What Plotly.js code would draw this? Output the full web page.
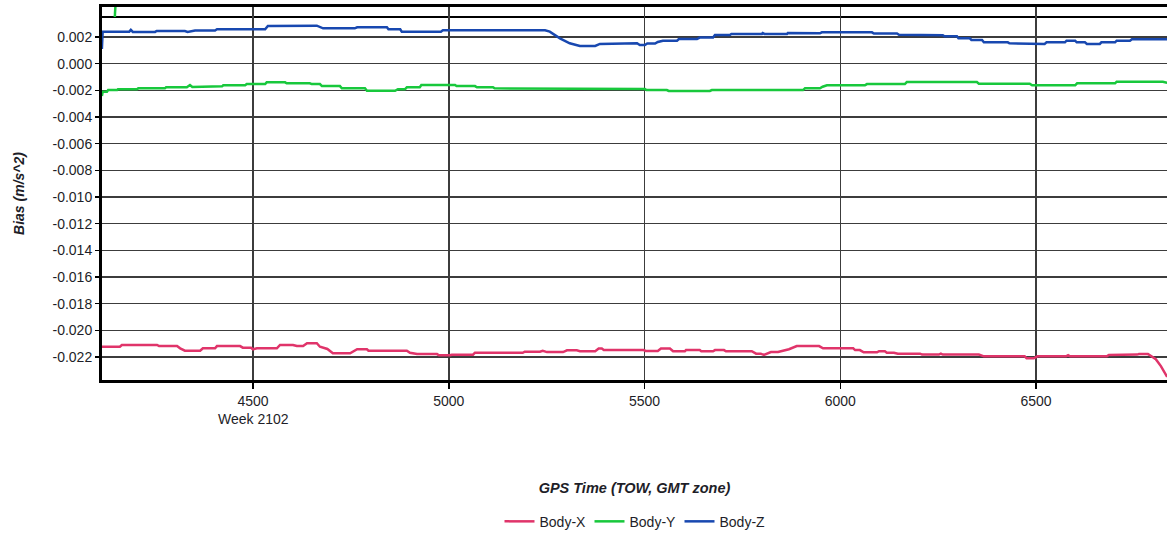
<!DOCTYPE html>
<html>
<head>
<meta charset="utf-8">
<script src="https://cdn.plot.ly/plotly-3.0.1.min.js"></script>
<style>
  html, body { margin: 0; padding: 0; background: #ffffff; }
  #chart { width: 1167px; height: 533px; }
</style>
</head>
<body>
<div id="chart"></div>
<script>
// ---- Data (GPS time of week, seconds; bias in m/s^2) ----
const bodyXTime = [4114,4160,4165,4255,4260,4306,4314,4326,4365,4372,4403,4408,4467,4474,4495,4500,4510,4561,4569,4602,4612,4628,4638,4663,4671,4690,4704,4748,4766,4791,4795,4893,4901,4919,4970,4975,5003,5008,5062,5067,5189,5194,5233,5240,5251,5292,5302,5327,5335,5374,5383,5391,5396,5498,5503,5534,5542,5565,5573,5603,5606,5641,5645,5675,5680,5703,5708,5774,5785,5797,5805,5823,5841,5869,5889,5946,5956,6033,6038,6050,6060,6094,6099,6114,6119,6137,6147,6204,6209,6252,6257,6262,6354,6367,6471,6476,6494,6504,6577,6582,6587,6681,6686,6720,6730,6758,6763,6786,6791,6806,6819,6829,6835];
const bodyXBias = [-0.02123,-0.02123,-0.0211,-0.0211,-0.02118,-0.02118,-0.02135,-0.02153,-0.02153,-0.02135,-0.02135,-0.02118,-0.02118,-0.0213,-0.0213,-0.02142,-0.02135,-0.02135,-0.0211,-0.0211,-0.02118,-0.02118,-0.02097,-0.02097,-0.02123,-0.0214,-0.02172,-0.02172,-0.02142,-0.02142,-0.02153,-0.02153,-0.02168,-0.02178,-0.02178,-0.02187,-0.02187,-0.02183,-0.02183,-0.02168,-0.02168,-0.0216,-0.0216,-0.02153,-0.02163,-0.02163,-0.0215,-0.0215,-0.02157,-0.02157,-0.02137,-0.02137,-0.02148,-0.02148,-0.02155,-0.02155,-0.02137,-0.02137,-0.02157,-0.02157,-0.02148,-0.02148,-0.02157,-0.02157,-0.02148,-0.02148,-0.02157,-0.02157,-0.02175,-0.02175,-0.02185,-0.02163,-0.02163,-0.02142,-0.02118,-0.02118,-0.02135,-0.02135,-0.02148,-0.02148,-0.02165,-0.02165,-0.02157,-0.02157,-0.02168,-0.02168,-0.02175,-0.02175,-0.02182,-0.02182,-0.02175,-0.02182,-0.02182,-0.02195,-0.02195,-0.0221,-0.0221,-0.02195,-0.02195,-0.02187,-0.02195,-0.02195,-0.02185,-0.02185,-0.02182,-0.02182,-0.02178,-0.02178,-0.02187,-0.02217,-0.02268,-0.02317,-0.0235];

const bodyYTime = [4147,4149,null,4114,4116,4127,4130,4153,4155,4204,4207,4275,4278,4331,4339,4345,4377,4380,4421,4424,4480,4484,4531,4535,4582,4586,4645,4650,4671,4676,4722,4727,4786,4791,4863,4870,4888,4893,4926,4930,5016,5020,5067,5072,5113,5117,5292,5296,5501,5505,5557,5562,5667,5672,5905,5910,5948,5955,5966,6063,6068,6165,6170,6349,6354,6484,6490,6600,6605,6702,6706,6824,6835];
const bodyYBias = [0.0035,0.0045,null,-0.00243,-0.0021,-0.0021,-0.00198,-0.00198,-0.00192,-0.00192,-0.00185,-0.00185,-0.00177,-0.00177,-0.0016,-0.00175,-0.00175,-0.0017,-0.0017,-0.00162,-0.00162,-0.00153,-0.00153,-0.0014,-0.0014,-0.00147,-0.00147,-0.00153,-0.00153,-0.00168,-0.00168,-0.00185,-0.00185,-0.00203,-0.00203,-0.00192,-0.00192,-0.00177,-0.00177,-0.0016,-0.0016,-0.00168,-0.00168,-0.00177,-0.00177,-0.00185,-0.00185,-0.0019,-0.0019,-0.00198,-0.00198,-0.00205,-0.00205,-0.00198,-0.00198,-0.00185,-0.00185,-0.00173,-0.00162,-0.00162,-0.00153,-0.00153,-0.00138,-0.00138,-0.0015,-0.0015,-0.00162,-0.00162,-0.00147,-0.00147,-0.00135,-0.00135,-0.00143];

const bodyZTime = [4114,4116,4184,4188,4193,4250,4254,4326,4333,4345,4352,4403,4408,4531,4538,4663,4679,4760,4766,4842,4846,4876,4880,4980,4985,5246,5258,5284,5309,5335,5374,5386,5437,5450,5481,5488,5501,5507,5527,5534,5547,5583,5588,5634,5641,5675,5680,5718,5722,5800,5802,5806,5864,5866,5880,5897,5948,5953,6081,6086,6145,6150,6224,6228,6262,6266,6298,6302,6331,6335,6362,6367,6428,6432,6461,6465,6522,6527,6574,6578,6600,6604,6625,6630,6663,6667,6702,6706,6740,6745,6835];
const bodyZBias = [0.0011,0.0024,0.0024,0.00253,0.00238,0.00238,0.00245,0.00245,0.00238,0.00245,0.00249,0.00249,0.00258,0.00258,0.00283,0.00285,0.00265,0.00265,0.00273,0.00273,0.00258,0.00258,0.0024,0.0024,0.0025,0.0025,0.0024,0.0019,0.00153,0.00133,0.00133,0.00148,0.00148,0.00153,0.00153,0.0014,0.0014,0.00151,0.00151,0.00163,0.00172,0.00172,0.00185,0.00185,0.00196,0.00196,0.00215,0.00215,0.00223,0.00223,0.0023,0.00223,0.00223,0.0023,0.0023,0.00228,0.00228,0.00235,0.00235,0.00226,0.00226,0.00217,0.00217,0.00213,0.00213,0.00205,0.00205,0.0019,0.0019,0.00178,0.00178,0.0016,0.0016,0.00153,0.00153,0.00148,0.00148,0.0016,0.0016,0.00172,0.00172,0.0016,0.0016,0.00148,0.00148,0.0016,0.0016,0.00172,0.00172,0.00183,0.00183];

const seriesNames = ["Body-X", "Body-Y", "Body-Z"];
const xTickVals = [4500, 5000, 5500, 6000, 6500];
const xTickLabels = ["4500", "5000", "5500", "6000", "6500"];
const yTickVals = [0.002, 0.000, -0.002, -0.004, -0.006, -0.008, -0.010, -0.012, -0.014, -0.016, -0.018, -0.020, -0.022];
const yTickLabels = ["0.002", "0.000", "-0.002", "-0.004", "-0.006", "-0.008", "-0.010", "-0.012", "-0.014", "-0.016", "-0.018", "-0.020", "-0.022"];
const weekLabel = "Week 2102";
const weekTick = 4500;

// ---- Styling ----
const FONT = "Liberation Sans, Arial, Helvetica, sans-serif";
const TXT = "#1e1e28";
const colors = ["#e0346a", "#18c83c", "#1848b0"];

const traces = [
  {x: bodyXTime, y: bodyXBias, name: seriesNames[0]},
  {x: bodyYTime, y: bodyYBias, name: seriesNames[1]},
  {x: bodyZTime, y: bodyZBias, name: seriesNames[2]}
].map((t, i) => Object.assign(t, {
  type: "scatter", mode: "lines",
  line: {color: colors[i], width: 2.5},
  connectgaps: false,
  hoverinfo: "skip"
}));

const layout = {
  width: 1167, height: 533,
  margin: {l: 102, r: 0, t: 7, b: 153, autoexpand: false},
  paper_bgcolor: "#ffffff",
  plot_bgcolor: "#ffffff",
  font: {family: FONT, size: 14, color: TXT},
  showlegend: true,
  legend: {
    orientation: "h", x: 0.5, xanchor: "center", y: -0.38, yanchor: "middle",
    entrywidth: 45, entrywidthmode: "pixels",
    font: {family: FONT, size: 14, color: TXT},
    bgcolor: "rgba(0,0,0,0)"
  },
  xaxis: {
    range: [4114.3, 6834.6],
    tickmode: "array", tickvals: xTickVals, ticktext: xTickLabels,
    showgrid: true, gridcolor: "#3c3c3c", gridwidth: 1.5,
    zeroline: false,
    showline: true, linecolor: "#000000", linewidth: 3, mirror: true,
    ticks: "outside", ticklen: 6, tickcolor: "#000000", tickwidth: 1.5,
    tickfont: {family: FONT, size: 14, color: TXT},
    title: {text: "<b><i>GPS Time (TOW, GMT zone)</i></b>", font: {family: FONT, size: 14.5, color: TXT}, standoff: 76},
    automargin: false, fixedrange: true
  },
  yaxis: {
    range: [-0.023725, 0.00425],
    tickmode: "array", tickvals: yTickVals, ticktext: yTickLabels,
    showgrid: true, gridcolor: "#3c3c3c", gridwidth: 1.5,
    zeroline: false,
    showline: true, linecolor: "#000000", linewidth: 3, mirror: false,
    ticks: "outside", ticklen: 4, tickcolor: "#000000", tickwidth: 1.5,
    tickfont: {family: FONT, size: 14, color: TXT},
    title: {text: "<b><i>Bias (m/s^2)</i></b>", font: {family: FONT, size: 14, color: TXT}, standoff: 25},
    automargin: false, fixedrange: true
  },
  shapes: [
    {type: "line", xref: "paper", x0: 0, x1: 1, yref: "y", y0: 0.0035, y1: 0.0035,
     line: {color: "#000000", width: 2}, layer: "below"}
  ],
  annotations: [
    {text: weekLabel, xref: "x", x: weekTick, yref: "paper", y: -0.1046,
     xanchor: "center", yanchor: "middle", showarrow: false,
     font: {family: FONT, size: 14, color: TXT}}
  ]
};

Plotly.newPlot("chart", traces, layout, {displayModeBar: false, staticPlot: true});
</script>
</body>
</html>
